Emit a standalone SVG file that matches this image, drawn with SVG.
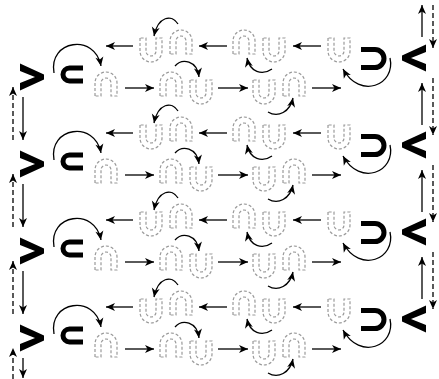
<svg xmlns="http://www.w3.org/2000/svg" width="439" height="379" viewBox="0 0 439 379">
<style>
.k{fill:#000;stroke:none}
.t{fill:none;stroke:#000;stroke-width:5}
.d{fill:none;stroke:#999;stroke-width:1.2;stroke-dasharray:3 2}
.a{fill:none;stroke:#000;stroke-width:1.3;marker-end:url(#ah)}
.v{fill:none;stroke:#000;stroke-width:1.3;stroke-dasharray:5 3;marker-end:url(#ah)}
</style>
<defs>
<marker id="ah" viewBox="-10 -5 11 10" refX="0" refY="0" markerWidth="11" markerHeight="10" markerUnits="userSpaceOnUse" orient="auto"><path d="M0,0 L-9,-4 L-6.5,0 L-9,4 Z" fill="#000"/></marker>
<path id="cap" class="d" d="M0,24 V11 A11,11 0 0 1 22,11 V24 H16 V11 A5,5 0 0 0 6,11 V24 Z"/>
<path id="cup" class="d" d="M0,0 V13 A11,11 0 0 0 22,13 V0 H16 V13 A5,5 0 0 1 6,13 V0 Z"/>
<g id="nodes-block">
<g id="gt"><polygon class="k" points="20,63.5 44,74.5 44,79.5 20,90.5 20,83 35,77 20,71"/></g>
<g id="sub"><path class="t" d="M83,68 H69.5 A6.5,6.5 0 0 0 69.5,81 H83"/></g>
<g id="lc1"><use href="#cap" x="95" y="72"/></g>
<g id="uc1"><use href="#cup" x="140" y="38"/><use href="#cap" x="170" y="30"/></g>
<g id="lc2"><use href="#cap" x="160" y="72"/><use href="#cup" x="190" y="80"/></g>
<g id="uc2"><use href="#cap" x="233" y="30"/><use href="#cup" x="263" y="38"/></g>
<g id="lc3"><use href="#cup" x="253" y="80"/><use href="#cap" x="283" y="72"/></g>
<g id="uc3"><use href="#cup" x="328" y="38"/></g>
<g id="sup"><path class="t" d="M361,49.5 H375 A9,9 0 0 1 375,67.5 H361"/></g>
<g id="lt"><polygon class="k" points="426,44.5 402,55.5 402,60.5 426,71.5 426,64 411,58 426,52"/></g>
</g>
</defs>
<g id="nodes">
<g id="block1"><use href="#nodes-block"/></g>
<g id="block2" transform="translate(0,87)"><use href="#nodes-block"/></g>
<g id="block3" transform="translate(0,174)"><use href="#nodes-block"/></g>
<g id="block4" transform="translate(0,261)"><use href="#nodes-block"/></g>
</g>
<g id="connectors">
<g id="conn-top">
<path class="a" d="M422,37 V5"/>
<path class="v" d="M433,5 V48"/>
</g>
<g id="conn-block" >
<path class="a" d="M321,46 H293"/>
<path class="a" d="M227,46 H199"/>
<path class="a" d="M133,46 H106"/>
<path class="a" d="M125,88 H154"/>
<path class="a" d="M218,88 H248"/>
<path class="a" d="M312,88 H341"/>
<path class="a" d="M54,73 C48,40 95,33 101,66"/>
<path class="a" d="M390,58 C396,85 360,100 343,69"/>
<path class="a" d="M178,24 C172,14 158,16 154,36"/>
<path class="a" d="M175,66 C182,58 197,60 199,77"/>
<path class="a" d="M272,69 C262,76 250,72 247,58"/>
<path class="a" d="M268,112 C278,118 290,112 293,98"/>
</g>
<g transform="translate(0,87)">
<path class="a" d="M321,46 H293"/><path class="a" d="M227,46 H199"/><path class="a" d="M133,46 H106"/>
<path class="a" d="M125,88 H154"/><path class="a" d="M218,88 H248"/><path class="a" d="M312,88 H341"/>
<path class="a" d="M54,73 C48,40 95,33 101,66"/><path class="a" d="M390,58 C396,85 360,100 343,69"/>
<path class="a" d="M178,24 C172,14 158,16 154,36"/><path class="a" d="M175,66 C182,58 197,60 199,77"/>
<path class="a" d="M272,69 C262,76 250,72 247,58"/><path class="a" d="M268,112 C278,118 290,112 293,98"/>
</g>
<g transform="translate(0,174)">
<path class="a" d="M321,46 H293"/><path class="a" d="M227,46 H199"/><path class="a" d="M133,46 H106"/>
<path class="a" d="M125,88 H154"/><path class="a" d="M218,88 H248"/><path class="a" d="M312,88 H341"/>
<path class="a" d="M54,73 C48,40 95,33 101,66"/><path class="a" d="M390,58 C396,85 360,100 343,69"/>
<path class="a" d="M178,24 C172,14 158,16 154,36"/><path class="a" d="M175,66 C182,58 197,60 199,77"/>
<path class="a" d="M272,69 C262,76 250,72 247,58"/><path class="a" d="M268,112 C278,118 290,112 293,98"/>
</g>
<g transform="translate(0,261)">
<path class="a" d="M321,46 H293"/><path class="a" d="M227,46 H199"/><path class="a" d="M133,46 H106"/>
<path class="a" d="M125,88 H154"/><path class="a" d="M218,88 H248"/><path class="a" d="M312,88 H341"/>
<path class="a" d="M54,73 C48,40 95,33 101,66"/><path class="a" d="M390,58 C396,85 360,100 343,69"/>
<path class="a" d="M178,24 C172,14 158,16 154,36"/><path class="a" d="M175,66 C182,58 197,60 199,77"/>
<path class="a" d="M272,69 C262,76 250,72 247,58"/><path class="a" d="M268,112 C278,118 290,112 293,98"/>
</g>
<g id="conn-vertical">
<path class="a" d="M23,97 V140"/><path class="v" d="M13,140 V87"/>
<path class="a" d="M23,184 V227"/><path class="v" d="M13,227 V174"/>
<path class="a" d="M23,271 V314"/><path class="v" d="M13,314 V261"/>
<path class="a" d="M23,358 V378"/><path class="v" d="M13,379 V348"/>
<path class="a" d="M422,125 V83"/><path class="v" d="M433,78 V135"/>
<path class="a" d="M422,212 V170"/><path class="v" d="M433,165 V222"/>
<path class="a" d="M422,299 V257"/><path class="v" d="M433,252 V309"/>
</g>
</g>
</svg>
